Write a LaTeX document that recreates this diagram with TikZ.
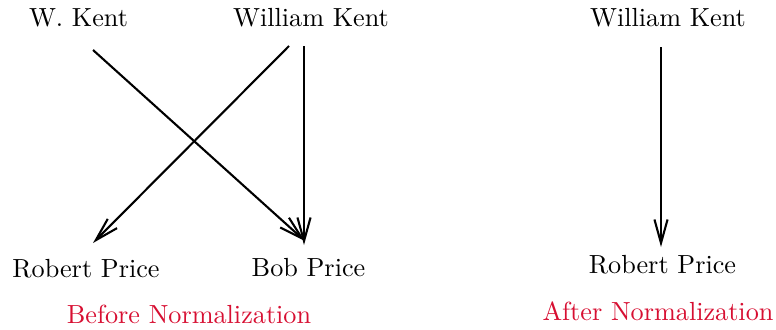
\documentclass[tikz,border=0pt]{standalone}
\usetikzlibrary{arrows.meta}
\definecolor{normred}{RGB}{215,15,50}
\begin{document}
\begin{tikzpicture}[x=0.3817pt,y=-0.3817pt,
  lbl/.style={anchor=base,inner sep=0pt,font=\normalsize},
  captionlbl/.style={lbl,text=normred},
  conn/.style={line width=0.8pt,-{Straight Barb[length=9pt,width=5pt]}}]
\useasboundingbox (0,0) rectangle (776,329);
\node[lbl] (wk1) at (78.5,27) {W. Kent};
\node[lbl] (wk2) at (311,27) {William Kent};
\node[lbl] (rp1) at (86,277) {Robert Price};
\node[lbl] (bp) at (308.5,276) {Bob Price};
\node[captionlbl] (before) at (189,323) {Before Normalization};
\node[lbl] (wk3) at (668,27) {William Kent};
\node[lbl] (rp2) at (662.5,273) {Robert Price};
\node[captionlbl] (after) at (658,320) {After Normalization};
\draw[conn] ([shift={(14.5,23)}]wk1.base) -- ([shift={(-3.5,-35)}]bp.base);
\draw[conn] ([shift={(-22,19)}]wk2.base) -- ([shift={(7,-34)}]rp1.base);
\draw[conn] ([shift={(-7,19)}]wk2.base) -- ([shift={(-4.5,-31)}]bp.base);
\draw[conn] ([shift={(-7,20)}]wk3.base) -- ([shift={(-1.5,-26)}]rp2.base);
\end{tikzpicture}
\end{document}
